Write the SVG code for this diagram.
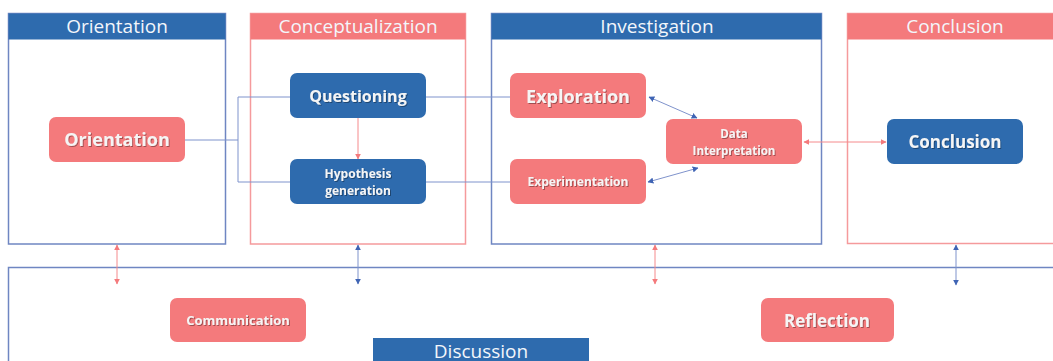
<svg xmlns="http://www.w3.org/2000/svg" width="1053" height="361" viewBox="0 0 1053 361">
<defs>
<style>
.hdr{font-family:"Open Sans","Noto Sans",sans-serif;font-size:19px;fill:#f3f6fb;text-anchor:middle}
.nt{font-family:"Open Sans","Noto Sans",sans-serif;font-weight:bold;fill:#f5f5f5;text-anchor:middle;filter:url(#ts)}
.pk{fill:#f47a7c}
.bl{fill:#2e6bae}
.fb{fill:#fff;stroke:#6f86c2;stroke-width:1.5}
.fp{fill:#fff;stroke:#f59a9c;stroke-width:1.5}
.cb{stroke:#7f93cc;stroke-width:1;fill:none}
.cp{stroke:#f58a8c;stroke-width:1;fill:none}
</style>
<filter id="ts" x="-10%" y="-30%" width="120%" height="160%">
<feDropShadow dx="1" dy="1" stdDeviation="0.6" flood-color="#000" flood-opacity="0.35"/>
</filter>
<marker id="ab" viewBox="0 0 10 10" refX="9" refY="5" markerWidth="6" markerHeight="6" orient="auto-start-reverse" markerUnits="userSpaceOnUse"><path d="M0,0 L10,5 L0,10 z" fill="#3f64b4"/></marker>
<marker id="ap" viewBox="0 0 10 10" refX="9" refY="5" markerWidth="6" markerHeight="6" orient="auto-start-reverse" markerUnits="userSpaceOnUse"><path d="M0,0 L10,5 L0,10 z" fill="#f47a7c"/></marker>
</defs>
<rect width="1053" height="361" fill="#fff"/>

<g id="frame-orientation">
<rect class="fb" x="8.5" y="13.5" width="217" height="230.5"/>
<rect class="bl" x="8.5" y="13.5" width="217" height="26"/>
<text class="hdr" x="117" y="33">Orientation</text>
</g>
<g id="frame-conceptualization">
<rect class="fp" x="250.5" y="13.5" width="215" height="230.5"/>
<rect class="pk" x="250.5" y="13.5" width="215" height="26"/>
<text class="hdr" x="358" y="33">Conceptualization</text>
</g>
<g id="frame-investigation">
<rect class="fb" x="491.5" y="13.5" width="330" height="230.5"/>
<rect class="bl" x="491.5" y="13.5" width="330" height="26"/>
<text class="hdr" x="657" y="33">Investigation</text>
</g>
<g id="frame-conclusion">
<rect class="fp" x="847.5" y="13.5" width="215" height="230"/>
<rect class="pk" x="847.5" y="13.5" width="215" height="26"/>
<text class="hdr" x="955" y="33">Conclusion</text>
</g>
<g id="frame-discussion">
<rect class="fb" x="8.5" y="267.5" width="1060" height="110" stroke-width="1.8"/>
<rect class="bl" x="373" y="338" width="216" height="30"/>
<text class="hdr" x="481" y="358">Discussion</text>
</g>

<g id="connectors">
<path class="cb" d="M185,140 H238 M238,97 V182 M238,97 H290 M238,182 H290"/>
<path class="cb" d="M426,97 H510 M426,182 H510"/>
<line class="cp" x1="358" y1="118" x2="358" y2="159" marker-end="url(#ap)"/>
<line class="cb" x1="649" y1="97" x2="697" y2="118" marker-start="url(#ab)" marker-end="url(#ab)"/>
<line class="cb" x1="648" y1="182" x2="698" y2="168" marker-start="url(#ab)" marker-end="url(#ab)"/>
<line class="cp" x1="804" y1="142" x2="886" y2="142" marker-start="url(#ap)" marker-end="url(#ap)"/>
<line class="cp" x1="117" y1="245" x2="117" y2="284" marker-start="url(#ap)" marker-end="url(#ap)"/>
<line class="cb" x1="358" y1="245" x2="358" y2="284" marker-start="url(#ab)" marker-end="url(#ab)"/>
<line class="cp" x1="655" y1="245" x2="655" y2="284" marker-start="url(#ap)" marker-end="url(#ap)"/>
<line class="cb" x1="956" y1="245" x2="956" y2="285" marker-start="url(#ab)" marker-end="url(#ab)"/>
</g>

<g id="node-orientation">
<rect class="pk" x="49" y="117" width="136" height="45" rx="7"/>
<text class="nt" x="117" y="146" font-size="18">Orientation</text>
</g>
<g id="node-questioning">
<rect class="bl" x="290" y="73" width="136" height="45" rx="7"/>
<text class="nt" x="358" y="102" font-size="16">Questioning</text>
</g>
<g id="node-hypothesis">
<rect class="bl" x="290" y="159" width="136" height="45" rx="7"/>
<text class="nt" x="358" y="178" font-size="12">Hypothesis</text>
<text class="nt" x="358" y="195" font-size="12">generation</text>
</g>
<g id="node-exploration">
<rect class="pk" x="510" y="73" width="136" height="45" rx="7"/>
<text class="nt" x="578" y="103" font-size="18">Exploration</text>
</g>
<g id="node-experimentation">
<rect class="pk" x="510" y="159" width="136" height="45" rx="7"/>
<text class="nt" x="578" y="186" font-size="12">Experimentation</text>
</g>
<g id="node-data-interpretation">
<rect class="pk" x="666" y="119" width="136" height="45" rx="7"/>
<text class="nt" x="734" y="138" font-size="11.5" font-weight="normal">Data</text>
<text class="nt" x="734" y="155" font-size="11.5" font-weight="normal">Interpretation</text>
</g>
<g id="node-conclusion">
<rect class="bl" x="887" y="119" width="136" height="45" rx="7"/>
<text class="nt" x="955" y="148" font-size="17">Conclusion</text>
</g>
<g id="node-communication">
<rect class="pk" x="170" y="298" width="136" height="44" rx="7"/>
<text class="nt" x="238" y="325" font-size="13">Communication</text>
</g>
<g id="node-reflection">
<rect class="pk" x="761" y="298" width="133" height="44" rx="7"/>
<text class="nt" x="827" y="327" font-size="17">Reflection</text>
</g>
</svg>
